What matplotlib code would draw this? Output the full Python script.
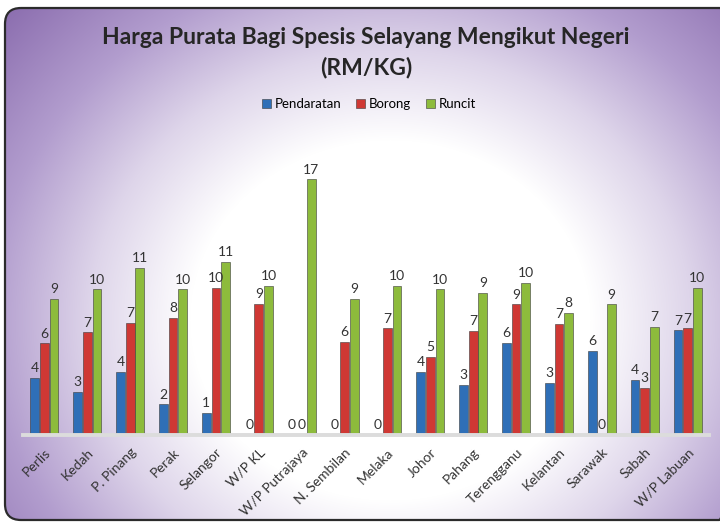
import numpy as np
import matplotlib; matplotlib.use("Agg")
import matplotlib.pyplot as plt
from matplotlib.patches import FancyBboxPatch

states = ["Perlis", "Kedah", "P. Pinang", "Perak", "Selangor", "W/P KL",
          "W/P Putrajaya", "N. Sembilan", "Melaka", "Johor", "Pahang",
          "Terengganu", "Kelantan", "Sarawak", "Sabah", "W/P Labuan"]
pendaratan = [3.71, 2.83, 4.10, 2.00, 1.42, 0, 0, 0, 0, 4.14, 3.29, 6.03, 3.42, 5.52, 3.60, 6.84]
borong     = [5.99, 6.71, 7.30, 7.63, 9.59, 8.55, 0, 6.06, 6.97, 5.12, 6.78, 8.54, 7.24, 0, 3.09, 6.97]
runcit     = [8.87, 9.52, 10.90, 9.52, 11.33, 9.76, 16.71, 8.87, 9.76, 9.52, 9.30, 9.95, 7.99, 8.54, 7.04, 9.59]
series = [("Pendaratan", pendaratan, "#2f6fb7"),
          ("Borong", borong, "#cf3834"),
          ("Runcit", runcit, "#8dbb3c")]

W, H = 720, 522
FONT = "Lato"
fig = plt.figure(figsize=(W / 100, H / 100), dpi=100)
fig.patch.set_facecolor("white")

# rounded frame, white centre fading to purple at the edges
bg = fig.add_axes([0, 0, 1, 1]); bg.set_xlim(0, W); bg.set_ylim(H, 0); bg.axis("off")
yy, xx = np.mgrid[0:H, 0:W]
d = np.hypot(xx - 390, (yy - 320) / 0.9)
stops = [200, 300, 400, 520, 650]
cols = np.array([[255, 255, 255], [222, 213, 234], [178, 157, 206], [138, 108, 174], [122, 92, 163]]) / 255
img = np.dstack([np.interp(d, stops, cols[:, k]) for k in range(3)])
frame = FancyBboxPatch((5, 8), 730, 512, boxstyle="round,pad=0,rounding_size=16",
                       fc="none", ec="#2b2b2b", lw=1.6, zorder=3)
bg.add_patch(frame)
im = bg.imshow(img, extent=(0, W, H, 0), zorder=1)
im.set_clip_path(frame)

cx = 366 / W
fig.text(cx, 1 - 37 / H, "Harga Purata Bagi Spesis Selayang Mengikut Negeri",
         ha="center", va="center", fontsize=16.5, fontweight="bold", color="#262626",
         family=FONT)
fig.text(cx, 1 - 67 / H, "(RM/KG)", ha="center", va="center", fontsize=16.5,
         fontweight="bold", color="#262626", family=FONT)

ax = fig.add_axes([23 / W, 87 / H, 686 / W, 275.4 / H])
ax.patch.set_alpha(0)
x = np.arange(len(states))
bw = 0.225
for i, (name, vals, col) in enumerate(series):
    xs = x + (i - 1) * bw
    ax.bar(xs, vals, bw * 0.9, color=col, edgecolor="#3a3a3a", lw=0.4,
           label=name, zorder=2)
    for xi, v in zip(xs, vals):
        ax.text(xi, v + 0.25, f"{v:.0f}", ha="center", va="bottom", fontsize=10,
                color="#333333", family=FONT)

ax.set_xlim(-0.5, len(states) - 0.5)
ax.set_ylim(0, 18)
ax.set_yticks([])
for s in ["top", "right", "left"]:
    ax.spines[s].set_visible(False)
ax.spines["bottom"].set_color("#dcdcdc"); ax.spines["bottom"].set_linewidth(2.8)
ax.set_xticks(x)
ax.set_xticklabels(states, rotation=45, ha="right", rotation_mode="anchor",
                   fontsize=10, color="#333333", family=FONT)
ax.tick_params(axis="x", length=0, pad=8)

fig.legend(*ax.get_legend_handles_labels(), loc="center", ncol=3,
           bbox_to_anchor=(369 / W, 1 - 104 / H), frameon=False,
           prop=dict(family=FONT, size=9.5), handlelength=0.7,
           handleheight=0.7, handletextpad=0.3, columnspacing=1.1)

fig.savefig("out.png", dpi=100)
